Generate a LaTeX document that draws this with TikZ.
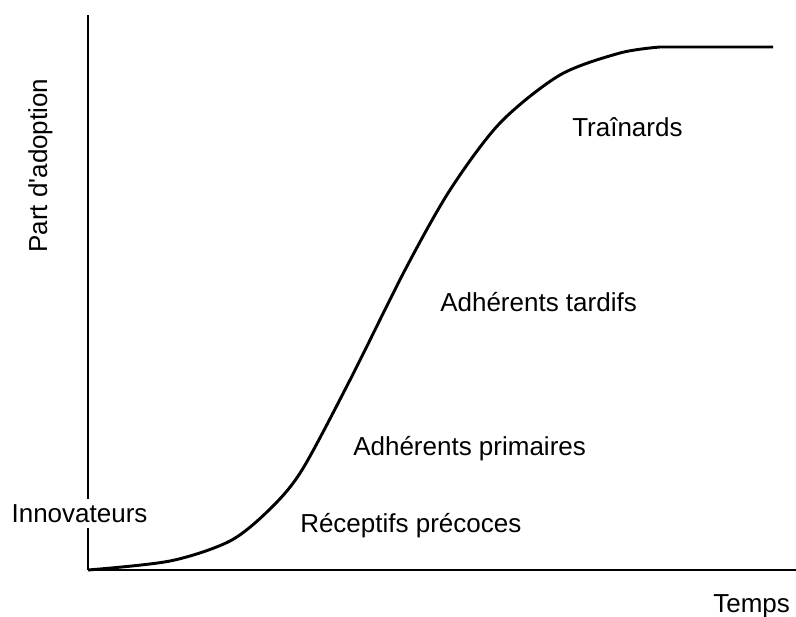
\documentclass[tikz,border=0pt]{standalone}
\usepackage{fontspec}
\setmainfont{Liberation Sans}[Ligatures=TeXOff]
\usepackage{tikz}

\begin{document}
\begin{tikzpicture}[x=0.75pt,y=-0.75pt,every node/.style={font=\fontsize{19.5}{23}\selectfont,inner sep=0pt},
		axe/.style={draw, line width=1.3pt},
		courbe/.style={draw, line width=2.2pt, line join=round}]
		\useasboundingbox (0,0) rectangle (796,617);
		\coordinate (o) at (88,570);
		\coordinate (ytop) at (88,15);
		\coordinate (xend) at (796,570);
		\coordinate (fin) at (773,47);
		
		\draw[axe] (o) -- (ytop);
		\draw[axe] (o) -- (xend);
		
		\draw[courbe] plot[smooth] coordinates {(88,570) (170,561) (230,541) (270,509) (302,470) (350,380) (405,270) (450,190) (500,123) (560,75) (620,53) (660,47)} -- (fin);
		
		\node[anchor=base west] (trainards) at (572,136) {Traînards};
		\node[anchor=base west] (tardifs) at (440,311) {Adhérents tardifs};
		\node[anchor=base west] (primaires) at (353,455) {Adhérents primaires};
		\node[anchor=base west] (precoces) at (300,532) {Réceptifs précoces};
		\node[anchor=base west,fill=white,inner ysep=4pt,inner xsep=1pt] (innov) at (10,522) {Innovateurs};
		\node[anchor=base west] (temps) at (713,612) {Temps};
		\node[anchor=base west,rotate=90] (part) at (47,253) {Part d'adoption};
	\end{tikzpicture}
\end{document}
